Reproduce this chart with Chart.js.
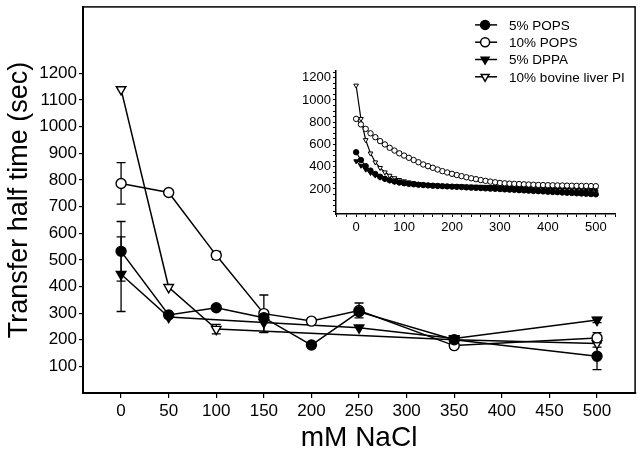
<!DOCTYPE html>
<html>
<head>
<meta charset="utf-8">
<script src="https://cdn.jsdelivr.net/npm/chart.js@4.4.0/dist/chart.umd.min.js"></script>
<style>
  html, body { margin: 0; padding: 0; background: #fff; }
  #wrap { position: relative; width: 642px; height: 455px; }
  #main { position: absolute; left: 0; top: 0; width: 642px; height: 455px; }
  #inset { position: absolute; left: 296px; top: 64px; width: 325px; height: 176px; }
</style>
</head>
<body>
<div id="wrap">
  <canvas id="main" width="642" height="455"></canvas>
  <canvas id="inset" width="325" height="176"></canvas>
</div>
<script>
// main plot data (mM NaCl vs transfer half time, sec)
const naclX = [0, 50, 100, 150, 200, 250, 350, 500];
const pops5 = [532, 293, 320, 283, 180, 305, 200, 138];
const pops5Err = [112, 0, 0, 0, 0, 0, 0, 50];
const pops10 = [787, 753, 517, 298, 270, 310, 178, 207];
const pops10Err = [78, 0, 15, 70, 0, 28, 0, 20];
const dppa5 = [446, 285, null, 265, null, 245, 205, 274];
const dppa5Err = [140, 0, 0, 38, 0, 0, 0, 10];
const bovinePI = [1140, 397, 240, null, null, null, 200, 186];
const bovinePIErr = [0, 0, 18, 0, 0, 0, 0, 14];

const xTicks = [0, 50, 100, 150, 200, 250, 300, 350, 400, 450, 500];
const yTicks = [100, 200, 300, 400, 500, 600, 700, 800, 900, 1000, 1100, 1200];

// inset (fitted curves)
const insetX = [0, 10, 20, 30, 40, 50, 60, 70, 80, 90, 100, 110, 120, 130, 140, 150, 160, 170, 180, 190,
  200, 210, 220, 230, 240, 250, 260, 270, 280, 290, 300, 310, 320, 330, 340, 350, 360, 370, 380, 390,
  400, 410, 420, 430, 440, 450, 460, 470, 480, 490, 500];
const insetPops5 = [530, 460, 405, 365, 335, 310, 292, 278, 267, 258, 251,
  246, 242, 238, 235, 232, 229, 227, 225, 223, 221,
  219, 217, 214, 212, 210, 208, 205, 203, 201, 199,
  196, 194, 192, 189, 187, 185, 182, 180, 178, 175,
  173, 171, 168, 166, 164, 161, 159, 157, 154, 152];
const insetPops10 = [830, 780, 740, 700, 665, 630, 600, 570, 545, 520,
  500, 480, 460, 440, 420, 405, 390, 375, 360, 348,
  336, 325, 315, 305, 296, 288, 280, 273, 266, 260,
  254, 251, 248, 246, 244, 242, 240, 238, 236, 235,
  234, 233, 232, 231, 230, 229, 228, 227, 227, 226, 225];
const insetDppa5 = [450, 410, 375, 345, 322, 303, 288, 276, 266, 258, 252,
  247, 243, 240, 237, 235, 233, 231, 229, 228, 227,
  226, 225, 224, 223, 222, 221, 220, 219, 218, 217,
  216, 215, 214, 213, 212, 211, 210, 209, 208, 207,
  206, 205, 204, 203, 202, 201, 200, 199, 198, 197];
const insetBovine = [1130, 830, 640, 520, 440, 390, 350, 320, 298, 282, 270,
  260, 252, 246, 241, 237, 233, 230, 227, 225, 223,
  221, 219, 217, 215, 213, 211, 209, 207, 205, 203,
  201, 199, 197, 195, 193, 191, 189, 187, 185, 183,
  181, 180, 179, 178, 177, 176, 175, 174, 173, 172];
const insetXTicks = [0, 100, 200, 300, 400, 500];
const insetYTicks = [200, 400, 600, 800, 1000, 1200];

const family = "'Liberation Sans', Arial, Helvetica, sans-serif";

// marker styles per series
const styles = [
  { label: '5% POPS', pointStyle: 'circle', fill: '#000', rotation: 0 },
  { label: '10% POPS', pointStyle: 'circle', fill: '#fff', rotation: 0 },
  { label: '5% DPPA', pointStyle: 'triangle', fill: '#000', rotation: 180 },
  { label: '10% bovine liver PI', pointStyle: 'triangle', fill: '#fff', rotation: 180 }
];

function toPoints(xs, ys, errs) {
  return xs.map((x, i) => ({ x: x, y: ys[i], err: errs ? errs[i] : 0 }))
    .filter(p => p.y !== null);
}

function noPad(s) {
  s.paddingTop = 0; s.paddingBottom = 0; s.paddingLeft = 0; s.paddingRight = 0;
}

// box around the plot area
const frame = {
  id: 'frame',
  afterDraw(chart) {
    const a = chart.chartArea, ctx = chart.ctx;
    ctx.save();
    ctx.strokeStyle = '#000';
    ctx.lineWidth = 1.5;
    ctx.strokeRect(a.left, a.top, a.right - a.left, a.bottom - a.top);
    ctx.restore();
  }
};

// vertical error bars with caps
const errorBars = {
  id: 'errorBars',
  beforeDatasetsDraw(chart) {
    const ctx = chart.ctx, xs = chart.scales.x, ys = chart.scales.y;
    ctx.save();
    ctx.strokeStyle = '#000';
    ctx.lineWidth = 1.3;
    chart.data.datasets.forEach(ds => {
      ds.data.forEach(p => {
        if (!p.err) return;
        const px = xs.getPixelForValue(p.x);
        const top = ys.getPixelForValue(p.y + p.err);
        const bot = ys.getPixelForValue(p.y - p.err);
        ctx.beginPath();
        ctx.moveTo(px, top); ctx.lineTo(px, bot);
        ctx.moveTo(px - 4.5, top); ctx.lineTo(px + 4.5, top);
        ctx.moveTo(px - 4.5, bot); ctx.lineTo(px + 4.5, bot);
        ctx.stroke();
      });
    });
    ctx.restore();
  }
};

// legend: line with marker, then label
const lineLegend = {
  id: 'lineLegend',
  afterDraw(chart) {
    const ctx = chart.ctx, a = chart.chartArea;
    const x0 = a.right - 160, y0 = a.top + 18;
    ctx.save();
    ctx.font = '13.5px ' + family;
    ctx.textBaseline = 'middle';
    chart.data.datasets.forEach((ds, i) => {
      const y = y0 + i * 17.3;
      ctx.strokeStyle = '#000';
      ctx.lineWidth = 1.5;
      ctx.beginPath();
      ctx.moveTo(x0, y); ctx.lineTo(x0 + 22, y);
      ctx.stroke();
      ctx.fillStyle = ds.pointBackgroundColor;
      Chart.helpers.drawPoint(ctx, {
        pointStyle: ds.pointStyle, rotation: ds.pointRotation,
        radius: 4.5, borderWidth: 1.3
      }, x0 + 10, y);
      ctx.fillStyle = '#000';
      ctx.fillText(ds.label, x0 + 34, y + 1);
    });
    ctx.restore();
  }
};

const mainSeries = [[pops5, pops5Err], [pops10, pops10Err], [dppa5, dppa5Err], [bovinePI, bovinePIErr]];

new Chart(document.getElementById('main'), {
  type: 'scatter',
  data: {
    datasets: mainSeries.map((s, i) => ({
      label: styles[i].label,
      data: toPoints(naclX, s[0], s[1]),
      showLine: true,
      borderColor: '#000',
      borderWidth: 1.5,
      pointStyle: styles[i].pointStyle,
      pointRotation: styles[i].rotation,
      pointRadius: styles[i].pointStyle === 'circle' ? 5 : 5.5,
      pointBorderWidth: 1.4,
      pointBorderColor: '#000',
      pointBackgroundColor: styles[i].fill
    }))
  },
  options: {
    responsive: false,
    animation: false,
    layout: { padding: { top: 3, right: 4, left: 0, bottom: 0 } },
    plugins: { legend: { display: false }, tooltip: { enabled: false } },
    scales: {
      x: {
        type: 'linear', min: -40, max: 540,
        afterBuildTicks: s => { s.ticks = xTicks.map(v => ({ value: v })); },
        afterFit: s => { s.height = 62; noPad(s); },
        grid: { drawOnChartArea: false, color: '#000', tickLength: 5, lineWidth: 1.2 },
        border: { color: '#000', width: 2 },
        ticks: { color: '#000', font: { size: 17, family: family }, padding: 3, maxRotation: 0, autoSkip: false,
          callback: v => String(v) },
        title: { display: true, text: 'mM NaCl', color: '#000', font: { size: 28, family: family }, padding: { top: 0, bottom: 0 } }
      },
      y: {
        type: 'linear', min: 0, max: 1450,
        afterBuildTicks: s => { s.ticks = yTicks.map(v => ({ value: v })); },
        afterFit: s => { s.width = 83; noPad(s); },
        grid: { drawOnChartArea: false, color: '#000', tickLength: 4, lineWidth: 1.2 },
        border: { color: '#000', width: 2 },
        ticks: { color: '#000', font: { size: 17, family: family }, padding: 2, autoSkip: false,
          callback: v => String(v) },
        title: { display: true, text: 'Transfer half time (sec)', color: '#000', font: { size: 27, family: family }, padding: { top: 3, bottom: 0 } }
      }
    }
  },
  plugins: [frame, errorBars, lineLegend]
});

const insetSeries = [insetPops5, insetPops10, insetDppa5, insetBovine];

new Chart(document.getElementById('inset'), {
  type: 'scatter',
  data: {
    datasets: insetSeries.map((s, i) => ({
      label: styles[i].label,
      data: toPoints(insetX, s, null),
      showLine: true,
      borderColor: '#000',
      borderWidth: 1.2,
      pointStyle: styles[i].pointStyle,
      pointRotation: styles[i].rotation,
      pointRadius: 2.7,
      pointBorderWidth: 1,
      pointBorderColor: '#000',
      pointBackgroundColor: styles[i].fill
    }))
  },
  options: {
    responsive: false,
    animation: false,
    layout: { padding: { top: 7, right: 6, left: 0, bottom: 0 } },
    plugins: { legend: { display: false }, tooltip: { enabled: false } },
    scales: {
      x: {
        type: 'linear', min: -42, max: 540,
        afterBuildTicks: s => {
          const t = [];
          for (let v = -40; v <= 540; v += 20) t.push({ value: v });
          s.ticks = t;
        },
        afterFit: s => { s.height = 26; noPad(s); },
        grid: { drawOnChartArea: false, color: '#000', tickLength: 3, lineWidth: 1 },
        border: { color: '#000', width: 1.5 },
        ticks: {
          color: '#000', font: { size: 13, family: family }, padding: 3, maxRotation: 0, autoSkip: false,
          callback: v => insetXTicks.includes(v) ? String(v) : ''
        }
      },
      y: {
        type: 'linear', min: -25, max: 1260,
        afterBuildTicks: s => {
          const t = [];
          for (let v = 0; v <= 1250; v += 50) t.push({ value: v });
          s.ticks = t;
        },
        afterFit: s => { s.width = 40; noPad(s); },
        grid: { drawOnChartArea: false, color: '#000', tickLength: 3, lineWidth: 1 },
        border: { color: '#000', width: 1.5 },
        ticks: {
          color: '#000', font: { size: 13, family: family }, padding: 2, autoSkip: false,
          callback: v => insetYTicks.includes(v) ? String(v) : ''
        }
      }
    }
  }
});
</script>
</body>
</html>
